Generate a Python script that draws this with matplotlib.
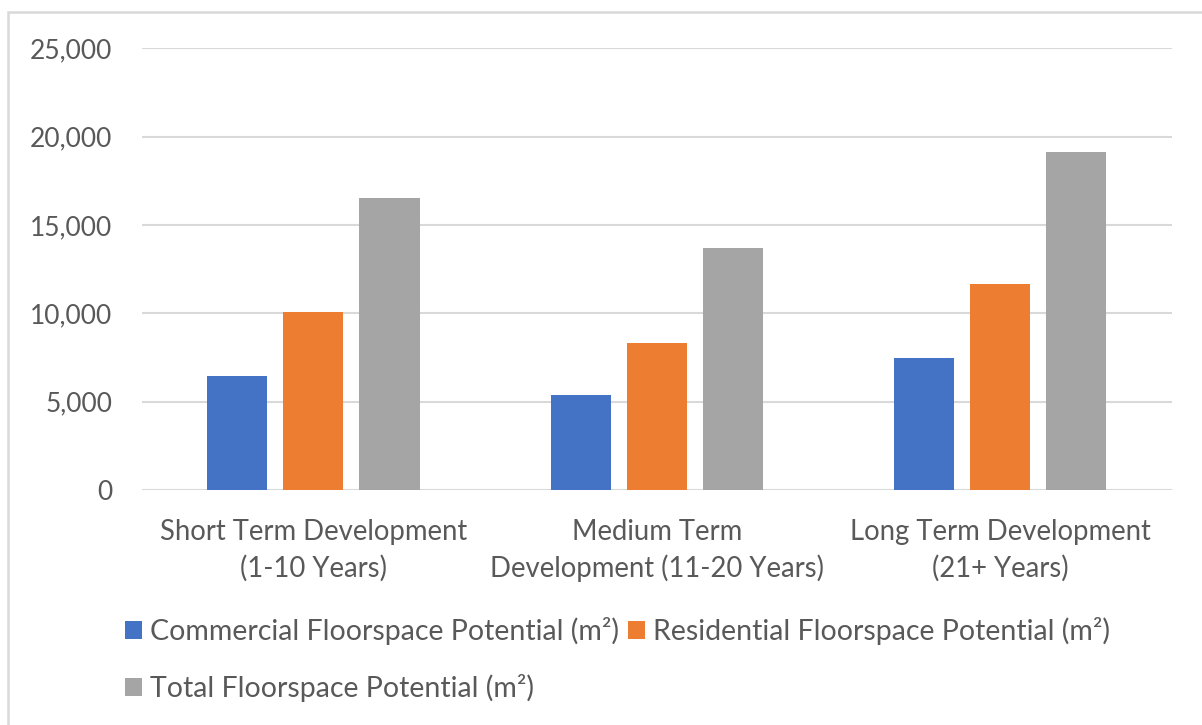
import matplotlib
matplotlib.use("Agg")
import matplotlib.pyplot as plt
import numpy as np
from matplotlib.patches import Patch, Rectangle
from matplotlib.ticker import FuncFormatter

# Data
categories = ["Short Term Development\n(1-10 Years)",
              "Medium Term\nDevelopment (11-20 Years)",
              "Long Term Development\n(21+ Years)"]
series_names = ["Commercial Floorspace Potential (m²)",
                "Residential Floorspace Potential (m²)",
                "Total Floorspace Potential (m²)"]
commercial = [6470, 5360, 7470]
residential = [10050, 8320, 11640]
total = [16500, 13710, 19110]
y_ticks = [0, 5000, 10000, 15000, 20000, 25000]

colors = ["#4472C4", "#ED7D31", "#A5A5A5"]
text_color = "#595959"
grid_color = "#D9D9D9"

plt.rcParams['font.family'] = ['Lato', 'DejaVu Sans']

fig = plt.figure(figsize=(12.02, 7.25), dpi=100, facecolor="white")
ax = fig.add_axes([0.1179, 0.3241, 0.8569, 0.6093])

x = np.arange(len(categories))
width = 0.175
step = 0.2217
for i, vals in enumerate([commercial, residential, total]):
    ax.bar(x + (i - 1) * step, vals, width, color=colors[i], zorder=3)

ax.set_xlim(-0.5, len(categories) - 0.5)
ax.set_ylim(0, 25000)
ax.set_yticks(y_ticks)
ax.yaxis.set_major_formatter(FuncFormatter(lambda v, p: f"{int(v):,}"))
ax.set_xticks(x)
ax.set_xticklabels(categories, linespacing=1.42)

ax.grid(axis="y", color=grid_color, linewidth=1.5, zorder=0)
for s in ax.spines.values():
    s.set_visible(False)
ax.tick_params(axis="both", length=0, colors=text_color)
ax.tick_params(axis="y", pad=21, labelsize=19)
ax.tick_params(axis="x", pad=21, labelsize=19.8)

# legend: reorder so that ncol=2 gives rows [Commercial, Residential], [Total]
handles = [Patch(facecolor=c, edgecolor="none") for c in colors]
order = [0, 2, 1]
leg = fig.legend([handles[k] for k in order], [series_names[k] for k in order],
                 ncol=2, loc="upper left", bbox_to_anchor=(113.6 / 1202, 1 - 606 / 725),
                 frameon=False, fontsize=20.5, handlelength=0.6, handleheight=0.6,
                 handletextpad=0.28, columnspacing=0.32, labelspacing=1.0,
                 labelcolor=text_color, borderaxespad=0)

# outer chart border
fig.patches.append(Rectangle((8 / 1202, -0.05), 1.2, 1.05 - 12 / 725,
                             transform=fig.transFigure, fill=False,
                             edgecolor=grid_color, linewidth=1.8))

fig.savefig("out.png", dpi=100, facecolor="white")
